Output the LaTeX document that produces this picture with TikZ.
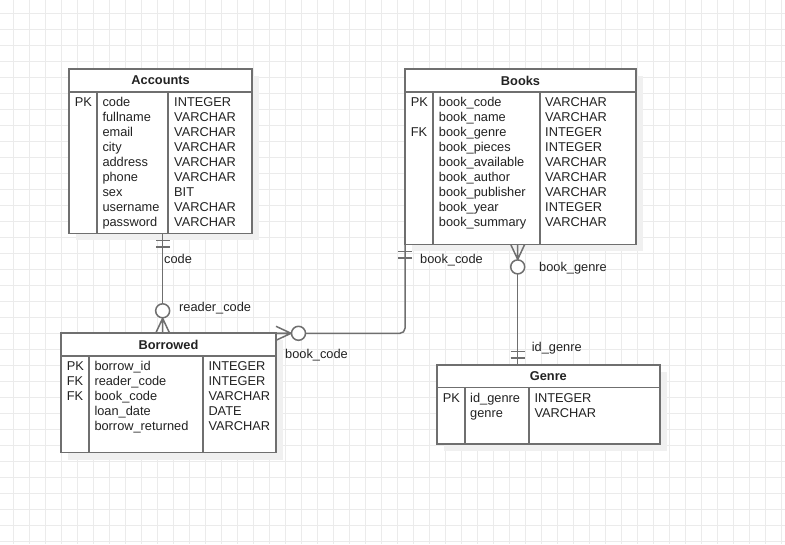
\documentclass[tikz,border=0pt]{standalone}
\usepackage{fontspec}
\setmainfont{Liberation Sans}
\usepackage{tikz}
\usetikzlibrary{positioning,calc,shadows}
\definecolor{erline}{HTML}{6F6F6F}
\definecolor{ertext}{HTML}{222222}
\definecolor{gridc}{HTML}{EBEBEB}
\definecolor{shadowc}{HTML}{F0F0F0}
\tikzset{
  gridline/.style={draw=gridc,line width=1pt},
  tblshadow/.style={drop shadow={shadow xshift=7pt,shadow yshift=-7pt,fill=shadowc,opacity=1}},
  tblhead/.style={rectangle,draw=erline,fill=white,line width=1.8pt,outer sep=0pt,inner sep=0pt,anchor=north west,minimum height=22.5pt,font=\bfseries\fontsize{12.8}{15}\selectfont,text=ertext,tblshadow},
  tblbody/.style={rectangle,draw=erline,fill=white,line width=1.8pt,outer sep=0pt,inner sep=0pt,tblshadow},
  tblline/.style={draw=erline,line width=1.8pt},
  cell/.style={anchor=base west,inner sep=0pt,font=\fontsize{12.8}{15}\selectfont,text=ertext},
  lab/.style={anchor=base west,inner sep=0pt,font=\fontsize{12.8}{15}\selectfont,text=ertext},
  rel/.style={draw=erline,line width=1.5pt},
  onebar/.pic={\draw[rel] (7,-7) -- (7,7) (13.5,-7) -- (13.5,7);},
  zeromany/.pic={\draw[rel] (0,-7) -- (15,0) -- (0,7) (0,0) -- (15.5,0);
    \draw[rel,fill=white] (22.5,0) circle[radius=7pt];}
}

\begin{document}
\begin{tikzpicture}[x=1pt,y=-1pt]
  \useasboundingbox (0,0) rectangle (785,544);
  \fill[white] (0,0) rectangle (785,544);

  % background grid
  \foreach \g in {13.3,29.3,...,781.3}
    \draw[gridline] (\g,0) -- (\g,544);
  \foreach \g in {13.3,29.3,...,541.3}
    \draw[gridline] (0,\g) -- (785,\g);

  % Accounts
  \node[tblhead,minimum width=183.3pt] (acch) at (69,69.3) {Accounts};
  \node[tblbody,minimum width=183.3pt,minimum height=141.6pt,below=0pt of acch] (acc) {};
  \draw[tblline] ($(acc.north west)+(28,0)$) -- ($(acc.south west)+(28,0)$);
  \draw[tblline] ($(acc.north west)+(99.3,0)$) -- ($(acc.south west)+(99.3,0)$);
  \node[cell] (acck1) at ($(acc.north west)+(5.7,15)$) {PK};
  \foreach \f/\t [count=\i] in {code/INTEGER,fullname/VARCHAR,email/VARCHAR,city/VARCHAR,
      address/VARCHAR,phone/VARCHAR,sex/BIT,username/VARCHAR,password/VARCHAR} {
    \node[cell] (accf\i) at ($(acc.north west)+(33.3,15*\i)$) {\f};
    \node[cell] (acct\i) at ($(acc.north west)+(105,15*\i)$) {\t};
  }

  % Books
  \node[tblhead,minimum width=231pt] (bksh) at (405,69.3) {Books};
  \node[tblbody,minimum width=231pt,minimum height=152.6pt,below=0pt of bksh] (bks) {};
  \draw[tblline] ($(bks.north west)+(28.3,0)$) -- ($(bks.south west)+(28.3,0)$);
  \draw[tblline] ($(bks.north west)+(135,0)$) -- ($(bks.south west)+(135,0)$);
  \node[cell] (bksk1) at ($(bks.north west)+(5.7,15)$) {PK};
  \node[cell] (bksk3) at ($(bks.north west)+(5.7,45)$) {FK};
  \foreach \f/\t [count=\i] in {book\_code/VARCHAR,book\_name/VARCHAR,book\_genre/INTEGER,
      book\_pieces/INTEGER,book\_available/VARCHAR,book\_author/VARCHAR,
      book\_publisher/VARCHAR,book\_year/INTEGER,book\_summary/VARCHAR} {
    \node[cell] (bksf\i) at ($(bks.north west)+(33.7,15*\i)$) {\f};
    \node[cell] (bkst\i) at ($(bks.north west)+(140,15*\i)$) {\t};
  }

  % Borrowed
  \node[tblhead,minimum width=215pt] (borh) at (61,333.3) {Borrowed};
  \node[tblbody,minimum width=215pt,minimum height=96.7pt,below=0pt of borh] (bor) {};
  \draw[tblline] ($(bor.north west)+(28.3,0)$) -- ($(bor.south west)+(28.3,0)$);
  \draw[tblline] ($(bor.north west)+(142.3,0)$) -- ($(bor.south west)+(142.3,0)$);
  \foreach \k [count=\i] in {PK,FK,FK}
    \node[cell] (bork\i) at ($(bor.north west)+(5.7,15*\i)$) {\k};
  \foreach \f/\t [count=\i] in {borrow\_id/INTEGER,reader\_code/INTEGER,book\_code/VARCHAR,
      loan\_date/DATE,borrow\_returned/VARCHAR} {
    \node[cell] (borf\i) at ($(bor.north west)+(33.3,15*\i)$) {\f};
    \node[cell] (bort\i) at ($(bor.north west)+(147.3,15*\i)$) {\t};
  }

  % Genre
  \node[tblhead,minimum width=223.3pt] (genh) at (436.7,365) {Genre};
  \node[tblbody,minimum width=223.3pt,minimum height=56.7pt,below=0pt of genh] (gen) {};
  \draw[tblline] ($(gen.north west)+(28.3,0)$) -- ($(gen.south west)+(28.3,0)$);
  \draw[tblline] ($(gen.north west)+(92.6,0)$) -- ($(gen.south west)+(92.6,0)$);
  \node[cell] (genk1) at ($(gen.north west)+(6,15)$) {PK};
  \foreach \f/\t [count=\i] in {id\_genre/INTEGER,genre/VARCHAR} {
    \node[cell] (genf\i) at ($(gen.north west)+(33.3,15*\i)$) {\f};
    \node[cell] (gent\i) at ($(gen.north west)+(97.6,15*\i)$) {\t};
  }

  % relations
  \coordinate (accb) at ($(acc.south)+(2,0)$);
  \coordinate (bortop) at (accb |- borh.north);
  \draw[rel] (accb) -- (bortop);
  \pic[rotate=-90] at (accb) {onebar};
  \pic[rotate=90] at (bortop) {zeromany};

  \draw[rel,rounded corners=5pt] (borh.north east) -| (bks.south west);
  \pic at (borh.north east) {zeromany};
  \pic[rotate=-90] at (bks.south west) {onebar};

  \coordinate (bksb) at ($(bks.south)+(-2.8,0)$);
  \coordinate (gentop) at (bksb |- genh.north);
  \draw[rel] (bksb) -- (gentop);
  \pic[rotate=-90] at (bksb) {zeromany};
  \pic[rotate=90] at (gentop) {onebar};

  % labels
  \node[lab] (lcode) at (164,263.3) {code};
  \node[lab] (lreader) at (179,311) {reader\_code};
  \node[lab] (lbcodea) at (285,358.6) {book\_code};
  \node[lab] (lbcodeb) at (420,263.3) {book\_code};
  \node[lab] (lbgenre) at (539,271) {book\_genre};
  \node[lab] (lidgenre) at (531.7,351.6) {id\_genre};
\end{tikzpicture}
\end{document}
